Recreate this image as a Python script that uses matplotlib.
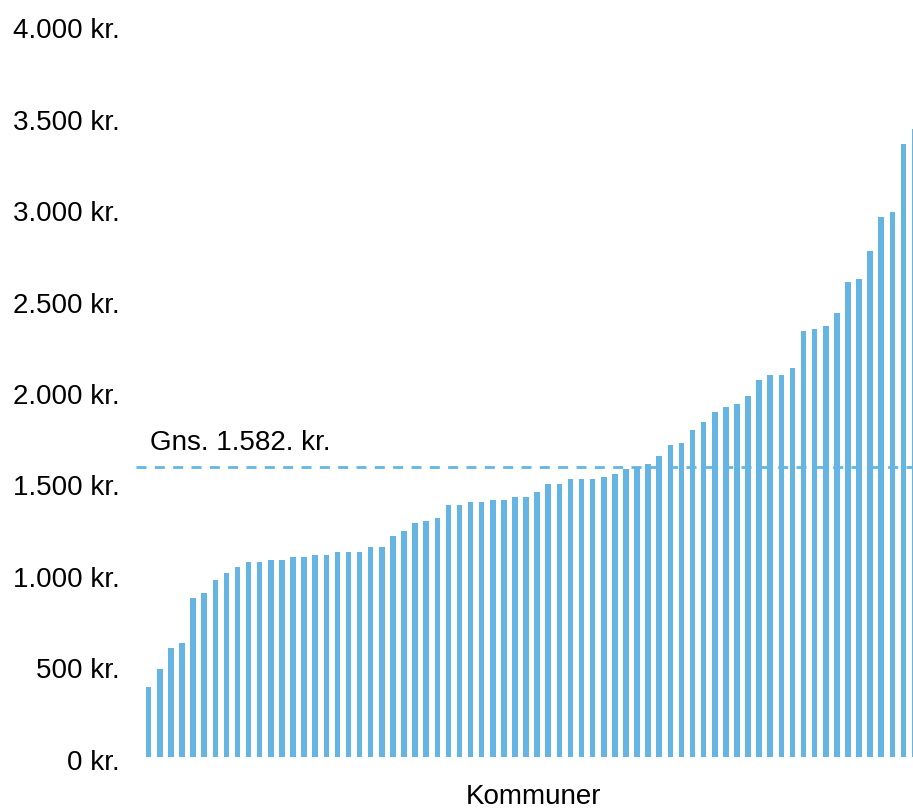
import numpy as np
import matplotlib
matplotlib.use('Agg')
from matplotlib import pyplot as plt
from matplotlib.ticker import FuncFormatter
from matplotlib.transforms import ScaledTranslation

plt.rcParams['font.family'] = ['Liberation Sans', 'DejaVu Sans']

# Udgift pr. kommune (kr.), sorteret stigende
values = [381, 481, 595, 624, 866, 894, 965, 1007, 1036, 1063,
          1063, 1078, 1078, 1092, 1092, 1105, 1105, 1120, 1120, 1120,
          1147, 1147, 1207, 1235, 1278, 1291, 1306, 1377, 1377, 1392,
          1392, 1404, 1404, 1419, 1419, 1446, 1490, 1490, 1517, 1517,
          1517, 1532, 1546, 1574, 1578, 1603, 1645, 1703, 1716, 1787,
          1831, 1887, 1915, 1929, 1971, 2059, 2086, 2086, 2128, 2329,
          2341, 2356, 2427, 2597, 2612, 2766, 2952, 2981, 3352, 3434]
average = 1582
avg_label = 'Gns. 1.582. kr.'
y_ticks = [0, 500, 1000, 1500, 2000, 2500, 3000, 3500, 4000]
x_label = 'Kommuner'

BLUE = '#64B5E4'

fig = plt.figure(figsize=(9.13, 8.11), dpi=100)
ax = fig.add_axes([0.149, 0.067, 0.851, 0.9016])

x = np.arange(len(values))
ax.bar(x, values, width=0.5, color=BLUE, zorder=2)
ax.axhline(average, color=BLUE, linewidth=2, dashes=(3.6, 3.0), zorder=3)
ax.text(0.1, 1716, avg_label, fontsize=20, va='center', ha='left')

ax.set_xlim(-1.14, 68.86)
ax.set_ylim(0, 4000)
ax.set_yticks(y_ticks)
ax.yaxis.set_major_formatter(FuncFormatter(
    lambda v, p: f'{int(v):,} kr.'.replace(',', '.')))
ax.tick_params(axis='y', length=0, pad=12, labelsize=20)
# labels sit a touch below their values in the original
shift = ScaledTranslation(0, -3 / 100, fig.dpi_scale_trans)
for lbl in ax.get_yticklabels():
    lbl.set_transform(lbl.get_transform() + shift)
ax.set_xticks([])
for s in ax.spines.values():
    s.set_visible(False)

fig.text(534 / 913, 1 - 797 / 811, x_label, fontsize=20, ha='center', va='center')

fig.savefig('out.png', dpi=100)
